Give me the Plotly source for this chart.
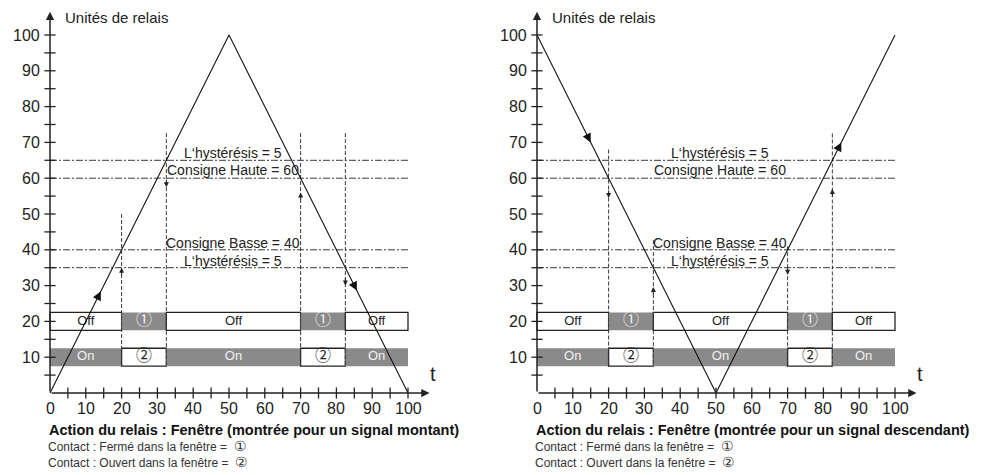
import numpy as np
import plotly.graph_objects as go

# ---------------- data ----------------
signal_t = [0, 50, 100]
signal_up = [0, 100, 0]        # left panel (rising first)
signal_down = [100, 0, 100]    # right panel (falling first)

threshold_levels = [65, 60, 40, 35]
threshold_labels = ["L‘hystérésis = 5", "Consigne Haute = 60", "Consigne Basse = 40", "L‘hystérésis = 5"]
threshold_label_y = [67, 62.4, 41.9, 37]
threshold_label_x = 51

switch_x = [20, 32.5, 70, 82.5]
switch_top_left = [50, 72.6, 72.6, 72.6]
switch_top_right = [68, 42.7, 41, 72.5]
switch_bottom = 7.5
switch_arrow_y_left = [35, 57.5, 56, 30]
switch_arrow_dir_left = [1, -1, 1, -1]
switch_arrow_y_right = [54.5, 29.6, 33, 57]
switch_arrow_dir_right = [-1, 1, -1, 1]

signal_arrow_x_left = [14.2, 85.7]
signal_arrow_x_right = [15, 85]

seg_start = [0, 20, 32.5, 70, 82.5]
seg_end = [20, 32.5, 70, 82.5, 100]
row_off_y = 20
row_on_y = 10
row_thickness = 5
row_off_text = ["Off", "①", "Off", "①", "Off"]
row_on_text = ["On", "②", "On", "②", "On"]
row_off_gray = [False, True, False, True, False]
row_on_gray = [True, False, True, False, True]

x_tick_vals = [0, 10, 20, 30, 40, 50, 60, 70, 80, 90, 100]
x_tick_text = ["0", "10", "20", "30", "40", "50", "60", "70", "80", "90", "100"]
y_tick_vals = [10, 20, 30, 40, 50, 60, 70, 80, 90, 100]
y_tick_text = ["10", "20", "30", "40", "50", "60", "70", "80", "90", "100"]
minor_ticks = [5, 10, 15, 20, 25, 30, 35, 40, 45, 50, 55, 60, 65, 70, 75, 80, 85, 90, 95, 100]

y_title = "Unités de relais"
x_title = "t"
captions = ["Action du relais : Fenêtre (montrée pour un signal montant)",
            "Action du relais : Fenêtre (montrée pour un signal descendant)"]
contact_text = ["Contact : Fermé dans la fenêtre =  ", "Contact : Ouvert dans la fenêtre =  "]
contact_symbols = ["①", "②"]

# ---------------- layout geometry ----------------
W, H = 996, 475
S = 3.58                    # pixels per data unit
X0_PX = [50, 537]           # pixel of x=0 in each panel
Y0_PX = 393                 # pixel of y=0 (from top)
XMIN, XMAX = -3, 112
YMIN, YMAX = -22, 107

FONT = "Liberation Sans, Arial, Helvetica, sans-serif"
SYM_FONT = "Noto Sans CJK JP, Liberation Sans, sans-serif"
GRAY = "#8a8a8a"
DASH_COLOR = "#3a3a3a"
INK = "#222"

def xdom(x0):
    return [(x0 + XMIN * S) / W, (x0 + XMAX * S) / W]

ydom = [(H - (Y0_PX - YMIN * S)) / H, (H - (Y0_PX - YMAX * S)) / H]

fig = go.Figure()
annotations = []

panels = [
    dict(sig=signal_up, tops=switch_top_left, ay=switch_arrow_y_left, adir=switch_arrow_dir_left,
         sax=signal_arrow_x_left, caption=captions[0]),
    dict(sig=signal_down, tops=switch_top_right, ay=switch_arrow_y_right, adir=switch_arrow_dir_right,
         sax=signal_arrow_x_right, caption=captions[1]),
]

for i, p in enumerate(panels):
    xa = "x" if i == 0 else "x2"
    ya = "y" if i == 0 else "y2"

    # bars: Off row and On row
    for row_y, texts, grays in [(row_off_y, row_off_text, row_off_gray), (row_on_y, row_on_text, row_on_gray)]:
        widths = [e - s for s, e in zip(seg_start, seg_end)]
        mids = [(s + e) / 2 for s, e in zip(seg_start, seg_end)]
        fig.add_trace(go.Bar(
            orientation="h", y=[row_y] * len(widths), x=widths, base=seg_start, width=row_thickness,
            marker=dict(color=[GRAY if g else "white" for g in grays],
                        line=dict(color=["rgba(0,0,0,0)" if g else INK for g in grays], width=1.3)),
            textposition="none", hoverinfo="skip", showlegend=False, xaxis=xa, yaxis=ya))
        fig.add_trace(go.Scatter(
            x=mids, y=[row_y] * len(mids), mode="text", text=texts,
            textfont=dict(family=[SYM_FONT if t in ("①", "②") else FONT for t in texts],
                          size=[16 if t in ("①", "②") else 13 for t in texts],
                          color=["#f2f2f2" if g else INK for g in grays]),
            hoverinfo="skip", showlegend=False, xaxis=xa, yaxis=ya))

    # horizontal threshold lines
    for lvl in threshold_levels:
        fig.add_trace(go.Scatter(x=[signal_t[0], signal_t[-1]], y=[lvl, lvl], mode="lines",
                                 line=dict(color=DASH_COLOR, width=1, dash="7px,2px,2px,2px"),
                                 hoverinfo="skip", showlegend=False, xaxis=xa, yaxis=ya))
    # vertical switch lines
    for sx, top in zip(switch_x, p["tops"]):
        fig.add_trace(go.Scatter(x=[sx, sx], y=[top, switch_bottom], mode="lines",
                                 line=dict(color=DASH_COLOR, width=1, dash="4px,2px"),
                                 hoverinfo="skip", showlegend=False, xaxis=xa, yaxis=ya))
    # signal
    fig.add_trace(go.Scatter(x=signal_t, y=p["sig"], mode="lines",
                             line=dict(color="#111", width=1.1),
                             hoverinfo="skip", showlegend=False, xaxis=xa, yaxis=ya))
    # axis ticks (crossing the axis)
    fig.add_trace(go.Scatter(x=minor_ticks, y=[0] * len(minor_ticks), mode="markers",
                             marker=dict(symbol="line-ns-open", size=8, color=INK, line=dict(color=INK, width=1.3)),
                             hoverinfo="skip", showlegend=False, xaxis=xa, yaxis=ya, cliponaxis=False))
    fig.add_trace(go.Scatter(x=[0] * len(minor_ticks), y=minor_ticks, mode="markers",
                             marker=dict(symbol="line-ew-open", size=8, color=INK, line=dict(color=INK, width=1.3)),
                             hoverinfo="skip", showlegend=False, xaxis=xa, yaxis=ya, cliponaxis=False))

    # axis arrows
    annotations.append(dict(x=106, y=0, ax=0, ay=0, xref=xa, yref=ya, axref=xa, ayref=ya,
                            showarrow=True, arrowhead=2, arrowsize=1.1, arrowwidth=1.5, arrowcolor=INK, text=""))
    annotations.append(dict(x=0, y=106.5, ax=0, ay=0, xref=xa, yref=ya, axref=xa, ayref=ya,
                            showarrow=True, arrowhead=2, arrowsize=1.1, arrowwidth=1.5, arrowcolor=INK, text=""))
    # axis titles
    annotations.append(dict(x=3.6, y=104.8, xref=xa, yref=ya, text=y_title, showarrow=False,
                            xanchor="left", yanchor="middle", font=dict(family=FONT, size=15, color=INK)))
    annotations.append(dict(x=107, y=5.2, xref=xa, yref=ya, text=x_title, showarrow=False,
                            xanchor="center", yanchor="middle", font=dict(family=FONT, size=20, color=INK)))
    # tick labels
    for v, t in zip(x_tick_vals, x_tick_text):
        annotations.append(dict(x=v, y=-4.3, xref=xa, yref=ya, text=t, showarrow=False,
                                xanchor="center", yanchor="middle", font=dict(family=FONT, size=16, color=INK)))
    for v, t in zip(y_tick_vals, y_tick_text):
        annotations.append(dict(x=-2.2, y=v, xref=xa, yref=ya, text=t, showarrow=False,
                                xanchor="right", yanchor="middle", font=dict(family=FONT, size=16, color=INK)))
    # threshold labels
    for ly, lt in zip(threshold_label_y, threshold_labels):
        annotations.append(dict(x=threshold_label_x, y=ly, xref=xa, yref=ya, text=lt, showarrow=False,
                                xanchor="center", yanchor="middle", font=dict(family=FONT, size=14, color=INK)))
    # switch arrowheads
    for sx, ay_, d in zip(switch_x, p["ay"], p["adir"]):
        annotations.append(dict(x=sx, y=ay_, ax=sx, ay=ay_ - 2.5 * d, xref=xa, yref=ya, axref=xa, ayref=ya,
                                showarrow=True, arrowhead=2, arrowsize=1, arrowwidth=1, arrowcolor=INK, text=""))
    # signal arrowheads
    for sxa in p["sax"]:
        y_head = float(np.interp(sxa, signal_t, p["sig"]))
        y_tail = float(np.interp(sxa - 1.2, signal_t, p["sig"]))
        annotations.append(dict(x=sxa, y=y_head, ax=sxa - 1.2, ay=y_tail, xref=xa, yref=ya, axref=xa, ayref=ya,
                                showarrow=True, arrowhead=2, arrowsize=1.6, arrowwidth=1.1, arrowcolor="#111", text=""))
    # captions
    annotations.append(dict(x=-0.7, y=-10.4, xref=xa, yref=ya, text="<b>" + p["caption"] + "</b>", showarrow=False,
                            xanchor="left", yanchor="middle", font=dict(family=FONT, size=14.5, color="#111")))
    for k, (ct, cs) in enumerate(zip(contact_text, contact_symbols)):
        annotations.append(dict(x=-0.7, y=-14.9 - 4.4 * k, xref=xa, yref=ya,
                                text=ct + "<span style='font-size:13.5px'>" + cs + "</span>", showarrow=False,
                                xanchor="left", yanchor="middle", borderpad=0,
                                font=dict(family=FONT, size=12, color="#333")))

axis_common = dict(visible=False, showgrid=False, zeroline=False, fixedrange=True)
fig.update_layout(
    width=W, height=H, autosize=False,
    margin=dict(l=0, r=0, t=0, b=0),
    paper_bgcolor="white", plot_bgcolor="white",
    barmode="overlay", showlegend=False,
    xaxis=dict(range=[XMIN, XMAX], domain=xdom(X0_PX[0]), anchor="y", **axis_common),
    yaxis=dict(range=[YMIN, YMAX], domain=ydom, anchor="x", **axis_common),
    xaxis2=dict(range=[XMIN, XMAX], domain=xdom(X0_PX[1]), anchor="y2", **axis_common),
    yaxis2=dict(range=[YMIN, YMAX], domain=ydom, anchor="x2", **axis_common),
    annotations=annotations,
    font=dict(family=FONT),
)

# remove the default 8px page margin so the 996x475 figure fills the window exactly
fig.write_html("out.html",
               config={"displayModeBar": False, "staticPlot": True},
               post_script="document.body.style.margin='0';document.body.style.overflow='hidden';")
